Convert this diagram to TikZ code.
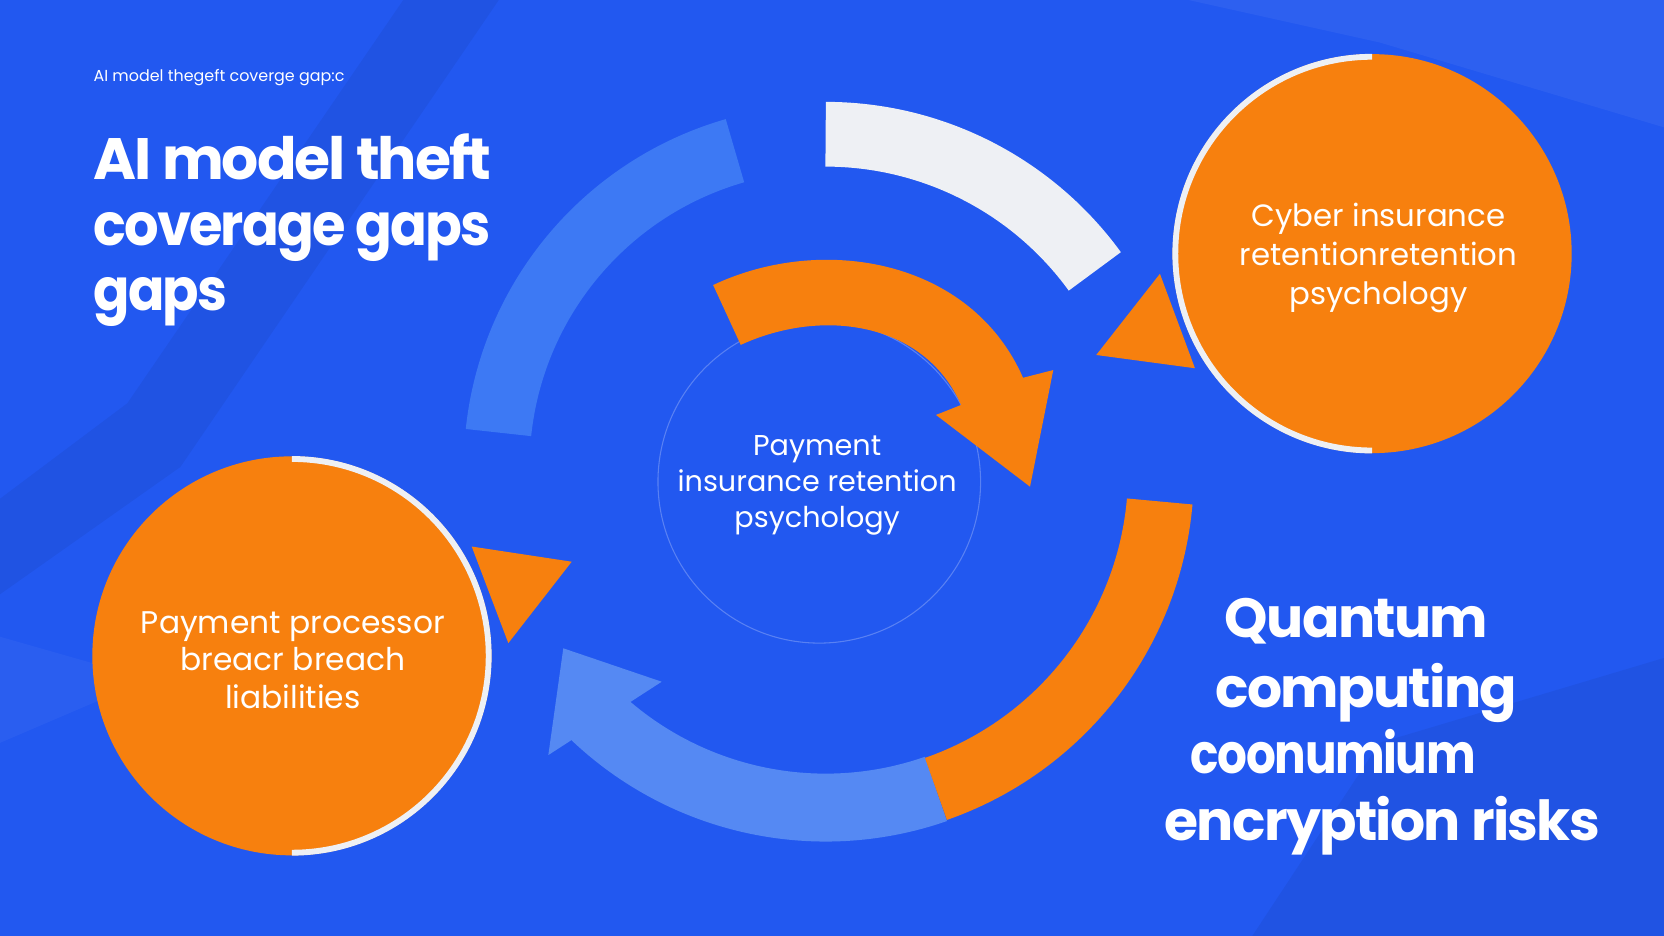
\documentclass[tikz,border=0pt]{standalone}
\usepackage{graphicx}
\usepackage{fontspec}
\setmainfont{Poppins}
\newfontfamily\headfont[LetterSpace=-3.5]{Poppins}
\newfontfamily\quantfont[LetterSpace=-3]{Poppins}
\usetikzlibrary{calc}
\definecolor{bg}{HTML}{2258F0}
\definecolor{lbone}{HTML}{3D79F4}
\definecolor{lbtwo}{HTML}{5589F3}
\definecolor{arcwhite}{HTML}{EEF0F4}
\definecolor{orng}{HTML}{F7800E}
\begin{document}
\begin{tikzpicture}[x=1pt,y=1pt,
  bubble/.style={circle, fill=orng, minimum size=376pt, inner sep=0pt},
  bubbletext/.style={text=white, align=center, inner sep=0pt},
  lbl/.style={text=white, align=center, font=\fontsize{27}{34}\selectfont},
  head/.style={text=white, anchor=base west, inner sep=0pt, font=\headfont\bfseries\fontsize{55}{60}\selectfont},
  quant/.style={text=white, anchor=base west, inner sep=0pt, font=\quantfont\bfseries\fontsize{52}{60}\selectfont},
  rim/.style={arcwhite, line width=5.5pt},
]
\path[use as bounding box, fill=bg] (0,0) rectangle (1568,-882);
% subtle paper texture
\fill[black, opacity=0.05] (0,-560) -- (170,-440) -- (470,0) -- (380,0) -- (120,-380) -- (0,-470) -- cycle;
\fill[white, opacity=0.05] (1120,0) -- (1568,0) -- (1568,-120) -- (1300,-40) -- cycle;
\fill[black, opacity=0.05] (1180,-882) -- (1300,-700) -- (1568,-620) -- (1568,-882) -- cycle;
\fill[white, opacity=0.04] (0,-700) -- (140,-640) -- (0,-600) -- cycle;

% faint inner circle
\draw[white, opacity=0.25, line width=1pt] (772,-454) circle[radius=152];

\coordinate (C) at (778,-440);
\coordinate (D) at (778,-445);
% top-left light blue arc
\draw[lbone, line width=62pt] ($(C)+(106:310)$) arc[start angle=106, end angle=174, radius=310];
% top-right white arc
\draw[arcwhite, line width=61pt] ($(C)+(90:313.5)$) arc[start angle=90, end angle=36, radius=313.5];
% bottom light blue arrow
\draw[lbtwo, line width=64pt] ($(D)+(-70.8:316)$) arc[start angle=-70.8, end angle=-135, radius=316];
\fill[lbtwo] (530.8,-610.9) -- (623.5,-642.4) -- (516.7,-711.5) -- cycle;
% right orange arc
\draw[orng, line width=62pt] ($(D)+(-5:316)$) arc[start angle=-5, end angle=-70.8, radius=316];

% central curved orange arrow
\fill[orng] (672,-268.6) .. controls (775,-220) and (915,-244.2) .. (964,-356)
  -- (992.5,-348.7) -- (970.6,-458.6) -- (882,-391) -- (905.6,-381.6)
  .. controls (871.5,-303.7) and (775.2,-289.4) .. (698,-325) -- cycle;

% arrowheads by the circles
\fill[orng] (1093,-258) -- (1033,-334.5) -- (1126,-347) -- cycle;
\fill[orng] (444.5,-515) -- (538.7,-529.3) -- (479,-606) -- cycle;

% circles
\node[bubble] (cyber) at (1293,-239) {};
\draw[rim] ($(cyber.center)+(90:185.5)$) arc[start angle=90, end angle=270, radius=185.5];
\node[bubbletext, font=\fontsize{29}{36.5}\selectfont] (cybertext) at (1299,-243) {Cyber insurance\\retentionretention\\psychology};
\node[bubble] (payproc) at (275,-618) {};
\draw[rim] ($(payproc.center)+(90:185.5)$) arc[start angle=90, end angle=-90, radius=185.5];
\node[bubbletext, font=\fontsize{29.5}{35.5}\selectfont] (paytext) at (276,-622) {Payment processor\\breacr breach\\liabilities};

% hub text
\node[lbl] (hub) at (770,-457.5) {Payment\\insurance retention\\psychology};

% headings
\node[text=white, anchor=base west, inner sep=0pt, font=\fontsize{15}{18}\selectfont] (sub) at (88,-76.5) {AI model thegeft coverge gap:c};
\node[head] (h1) at (88,-169.6) {AI model theft};
\node[head] (h2) at (88,-231) {\scalebox{0.93}[1]{coverage gaps}};
\node[head] (h3) at (88,-293) {\scalebox{0.92}[1]{gaps}};

\node[quant] (q1) at (1154,-601) {Quantum};
\node[quant] (q2) at (1145,-667) {computing};
\node[quant] (q3) at (1122,-729) {\scalebox{0.85}[1]{coonumium}};
\node[quant] (q4) at (1097,-792) {encryption risks};
\end{tikzpicture}
\end{document}
